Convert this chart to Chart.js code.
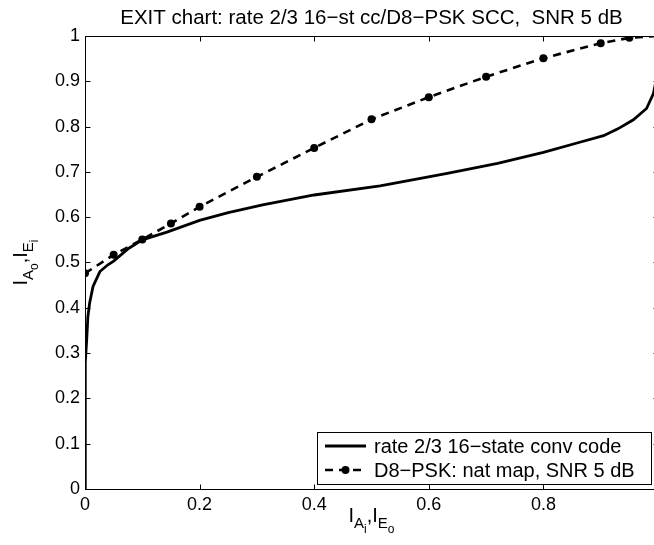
<!DOCTYPE html>
<html>
<head>
<meta charset="utf-8">
<title>EXIT chart</title>
<script src="https://cdn.jsdelivr.net/npm/chart.js@4.4.1/dist/chart.umd.min.js"></script>
<style>
  html, body { margin: 0; padding: 0; overflow: hidden; background: #fff; }
  #wrap { width: 664px; height: 545px; }
</style>
</head>
<body>
<div id="wrap"><canvas id="exitChart"></canvas></div>
<script>
const titleText = "EXIT chart: rate 2/3 16\u2212st cc/D8\u2212PSK SCC,  SNR 5 dB";
const seriesNames = ["rate 2/3 16\u2212state conv code", "D8\u2212PSK: nat map, SNR 5 dB"];

// outer code: rate 2/3 16-state convolutional code
const convX = [0, 0, 0.001, 0.003, 0.005, 0.008, 0.014, 0.026, 0.04, 0.05, 0.076, 0.1, 0.143, 0.2, 0.25, 0.31, 0.4, 0.515, 0.63, 0.72, 0.8, 0.865, 0.905, 0.93, 0.957, 0.98, 0.992, 0.998, 1.0];
const convY = [0, 0.2, 0.28, 0.33, 0.38, 0.41, 0.447, 0.48, 0.495, 0.503, 0.531, 0.55, 0.567, 0.593, 0.61, 0.627, 0.649, 0.669, 0.696, 0.719, 0.743, 0.766, 0.78, 0.795, 0.815, 0.84, 0.873, 0.91, 1.0];

// inner code: D8-PSK, natural mapping, SNR 5 dB
const mapX = [0, 0.05, 0.1, 0.15, 0.2, 0.3, 0.4, 0.5, 0.6, 0.7, 0.8, 0.9, 0.95, 1.0];
const mapY = [0.476, 0.517, 0.551, 0.586, 0.623, 0.689, 0.753, 0.816, 0.865, 0.91, 0.951, 0.984, 0.996, 1.0];

const xTicks = [0, 0.2, 0.4, 0.6, 0.8];
const yTicks = [0, 0.1, 0.2, 0.3, 0.4, 0.5, 0.6, 0.7, 0.8, 0.9, 1];

const FONT = "'Liberation Sans', Arial, Helvetica, sans-serif";
const toPoints = (xs, ys) => xs.map((v, i) => ({ x: v, y: ys[i] }));

// box around the axes with inward tick marks on all four sides
const frame = {
  id: 'frame',
  afterDatasetsDraw(chart) {
    const { ctx, chartArea: a, scales: { x, y } } = chart;
    const L = Math.round(a.left) + 0.5, R = Math.round(a.right) + 0.5;
    const T = Math.round(a.top) + 0.5, B = Math.round(a.bottom) + 0.5;
    const len = 5;
    ctx.save();
    ctx.strokeStyle = '#000';
    ctx.lineWidth = 1;
    ctx.strokeRect(L, T, R - L, B - T);
    ctx.beginPath();
    xTicks.concat([1]).forEach(v => {
      const px = Math.round(x.getPixelForValue(v)) + 0.5;
      ctx.moveTo(px, B); ctx.lineTo(px, B - len);
      ctx.moveTo(px, T); ctx.lineTo(px, T + len);
    });
    yTicks.forEach(v => {
      const py = Math.round(y.getPixelForValue(v)) + 0.5;
      ctx.moveTo(L, py); ctx.lineTo(L + len, py);
      ctx.moveTo(R, py); ctx.lineTo(R - len, py);
    });
    ctx.stroke();
    ctx.restore();
  }
};

// TeX-like label: I_{A_o},I_{E_i}
function drawSubLabel(ctx, parts, cx, baseline) {
  const sizes = [20, 15, 12];
  const drops = [0, 6, 11];
  let total = 0;
  parts.forEach(p => {
    ctx.font = sizes[p.lvl] + 'px ' + FONT;
    p.w = ctx.measureText(p.t).width;
    total += p.w;
  });
  let cur = cx - total / 2;
  parts.forEach(p => {
    ctx.font = sizes[p.lvl] + 'px ' + FONT;
    ctx.fillText(p.t, cur, baseline + drops[p.lvl]);
    cur += p.w;
  });
}

const axisTitles = {
  id: 'axisTitles',
  afterDraw(chart) {
    const { ctx, chartArea: a } = chart;
    ctx.save();
    ctx.fillStyle = '#000';
    ctx.textAlign = 'left';
    ctx.textBaseline = 'alphabetic';
    drawSubLabel(ctx, [
      { t: 'I', lvl: 0 }, { t: 'A', lvl: 1 }, { t: 'i', lvl: 2 },
      { t: ',', lvl: 0 }, { t: 'I', lvl: 0 }, { t: 'E', lvl: 1 }, { t: 'o', lvl: 2 }
    ], (a.left + a.right) / 2, a.bottom + 33);
    ctx.translate(27, (a.top + a.bottom) / 2);
    ctx.rotate(-Math.PI / 2);
    drawSubLabel(ctx, [
      { t: 'I', lvl: 0 }, { t: 'A', lvl: 1 }, { t: 'o', lvl: 2 },
      { t: ',', lvl: 0 }, { t: 'I', lvl: 0 }, { t: 'E', lvl: 1 }, { t: 'i', lvl: 2 }
    ], 0, 0);
    ctx.restore();
  }
};

// legend box in the lower right corner of the axes
const boxLegend = {
  id: 'boxLegend',
  afterDraw(chart) {
    const { ctx } = chart;
    const left = 317.5, top = 432.5, right = 651.5, bottom = 484.5;
    ctx.save();
    ctx.fillStyle = '#fff';
    ctx.fillRect(left, top, right - left, bottom - top);
    ctx.strokeStyle = '#000';
    ctx.lineWidth = 1;
    ctx.strokeRect(left, top, right - left, bottom - top);
    ctx.font = '20px ' + FONT;
    ctx.textBaseline = 'middle';
    ctx.fillStyle = '#000';
    chart.data.datasets.forEach((ds, i) => {
      const cy = 446 + i * 24;
      ctx.strokeStyle = ds.borderColor;
      ctx.lineWidth = ds.borderWidth;
      ctx.setLineDash(ds.borderDash || []);
      ctx.beginPath();
      ctx.moveTo(325, cy);
      ctx.lineTo(366, cy);
      ctx.stroke();
      ctx.setLineDash([]);
      if (ds.pointRadius > 0) {
        ctx.beginPath();
        ctx.arc(345.5, cy, ds.pointRadius, 0, Math.PI * 2);
        ctx.fillStyle = ds.pointBackgroundColor;
        ctx.fill();
      }
      ctx.fillStyle = '#000';
      ctx.fillText(ds.label, 374, cy + 1);
    });
    ctx.restore();
  }
};

new Chart(document.getElementById('exitChart'), {
  type: 'scatter',
  data: {
    datasets: [
      {
        label: seriesNames[0],
        data: toPoints(convX, convY),
        showLine: true,
        borderColor: '#000',
        borderWidth: 2.8,
        pointRadius: 0,
        pointHoverRadius: 0,
        tension: 0
      },
      {
        label: seriesNames[1],
        data: toPoints(mapX, mapY),
        showLine: true,
        borderColor: '#000',
        borderWidth: 2.6,
        borderDash: [8, 6],
        pointRadius: 4,
        pointBackgroundColor: '#000',
        pointBorderWidth: 0,
        tension: 0
      }
    ]
  },
  options: {
    responsive: true,
    maintainAspectRatio: false,
    animation: false,
    events: [],
    layout: { padding: { left: 0, right: 6, top: 0, bottom: 0 } },
    plugins: {
      legend: { display: false },
      tooltip: { enabled: false },
      title: {
        display: true,
        text: titleText,
        fullSize: false,
        color: '#000',
        font: { family: FONT, size: 20.5, weight: 'normal', lineHeight: 1.17 },
        padding: { top: 6, bottom: 6 }
      }
    },
    scales: {
      x: {
        type: 'linear',
        min: 0,
        max: 1,
        grid: { display: false, drawTicks: false },
        border: { display: false },
        afterBuildTicks: s => { s.ticks = xTicks.map(v => ({ value: v })); },
        afterFit: s => { s.height = 56; },
        ticks: {
          padding: 5,
          maxRotation: 0,
          color: '#000',
          font: { family: FONT, size: 18 },
          callback: v => String(v)
        }
      },
      y: {
        type: 'linear',
        min: 0,
        max: 1,
        grid: { display: false, drawTicks: false },
        border: { display: false },
        afterBuildTicks: s => { s.ticks = yTicks.map(v => ({ value: v })); },
        afterFit: s => { s.width = 85; },
        ticks: {
          padding: 5,
          color: '#000',
          font: { family: FONT, size: 18 },
          callback: v => String(v)
        }
      }
    }
  },
  plugins: [frame, axisTitles, boxLegend]
});
</script>
</body>
</html>
